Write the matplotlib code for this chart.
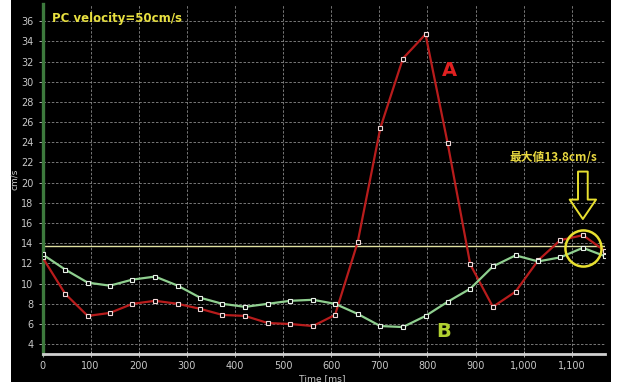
import matplotlib
matplotlib.use("Agg")
import matplotlib.pyplot as plt
from matplotlib.patches import Rectangle, FancyArrowPatch
from matplotlib.ticker import FuncFormatter

# ---- data ----
time_ms = [0, 47, 94, 140, 187, 234, 281, 328, 374, 421, 468, 515, 562,
           608, 655, 702, 749, 796, 842, 889, 936, 983, 1030, 1076, 1123, 1170]
series_a = [12.6, 9.0, 6.8, 7.1, 8.0, 8.3, 8.0, 7.5, 6.9, 6.8, 6.1, 6.0, 5.8,
            6.9, 14.1, 25.4, 32.3, 34.7, 23.9, 11.9, 7.7, 9.2, 12.3, 14.3, 14.8, 13.2]
series_b = [12.9, 11.4, 10.1, 9.8, 10.4, 10.7, 9.8, 8.6, 8.0, 7.7, 8.0, 8.3, 8.4,
            8.0, 7.0, 5.8, 5.7, 6.8, 8.2, 9.5, 11.7, 12.8, 12.2, 12.6, 13.55, 12.7]
ref_level = 13.7
peak_time = 1123
y_ticks = list(range(4, 37, 2))
x_ticks = list(range(0, 1101, 100))

W, H = 622, 382
fig = plt.figure(figsize=(W / 100, H / 100), dpi=100)
fig.patch.set_facecolor("white")
fig.patches.append(Rectangle((11 / W, 0), 600 / W, 1, transform=fig.transFigure,
                             facecolor="black", edgecolor="none", zorder=-10))

ax = fig.add_axes([42.5 / W, (H - 354.3) / H, (605 - 42.5) / W, (354.3 - 4) / H])
ax.set_facecolor("black")
ax.set_xlim(0, 1169)
ax.set_ylim(3, 37.7)

ax.set_yticks(y_ticks)
ax.set_xticks(x_ticks)
ax.xaxis.set_major_formatter(FuncFormatter(lambda v, p: f"{int(v):,}"))
ax.grid(True, color="#8a8a8a", linestyle=(0, (3, 2)), linewidth=0.6)
ax.set_axisbelow(True)

for s in ["top", "right"]:
    ax.spines[s].set_visible(False)
ax.spines["left"].set_color("#3d7a3d")
ax.spines["left"].set_linewidth(2.4)
ax.spines["bottom"].set_color("#d0d0d0")
ax.spines["bottom"].set_linewidth(2.0)
ax.tick_params(colors="#c8c8c8", labelsize=7, length=3, width=0.6)
ax.tick_params(axis="x", direction="inout", length=5, pad=2)

ax.set_xlabel("Time [ms]", color="#c8c8c8", fontsize=6.6)
ax.xaxis.set_label_coords(0.497, -0.056)
ax.set_ylabel("cm/s", color="#c8c8c8", fontsize=6.5)
ax.yaxis.set_label_coords(-0.042, 0.50)

ax.axhline(ref_level, color="#e0e0a0", linewidth=1.0, zorder=2)

ax.plot(time_ms, series_a, color="#b81c1c", linewidth=1.6, marker="s",
        markersize=3.2, markerfacecolor="black", markeredgecolor="#f0d8d8",
        markeredgewidth=0.8, zorder=3)
ax.plot(time_ms, series_b, color="#8fcf8f", linewidth=1.6, marker="s",
        markersize=3.2, markerfacecolor="black", markeredgecolor="#e8f0e8",
        markeredgewidth=0.8, zorder=4)

ax.text(20, 36.3, "PC velocity=50cm/s", color="#e8e040", fontsize=8.5,
        fontweight="bold", va="center", ha="left")
ax.text(845, 31.1, "A", color="#e02020", fontsize=14, fontweight="bold",
        ha="center", va="center")
ax.text(833, 5.3, "B", color="#b0d030", fontsize=14, fontweight="bold",
        ha="center", va="center")
ax.text(1061, 22.5, "最大値13.8cm/s", color="#e8d840", fontsize=8.5,
        fontweight="bold", ha="center", va="center",
        family=["Noto Sans CJK JP", "DejaVu Sans"])

arrow = FancyArrowPatch((peak_time, 21.1), (peak_time, 16.4),
                        arrowstyle="simple,head_length=14,head_width=19,tail_width=7",
                        mutation_scale=1, facecolor="none", edgecolor="#e8e030",
                        linewidth=1.4, shrinkA=0, shrinkB=0, zorder=6)
ax.add_patch(arrow)
ax.plot([peak_time], [13.55], marker="o", markersize=26, markerfacecolor="none",
        markeredgecolor="#e8e030", markeredgewidth=1.8, zorder=6)

fig.savefig("out.png", dpi=100, facecolor=fig.get_facecolor())
